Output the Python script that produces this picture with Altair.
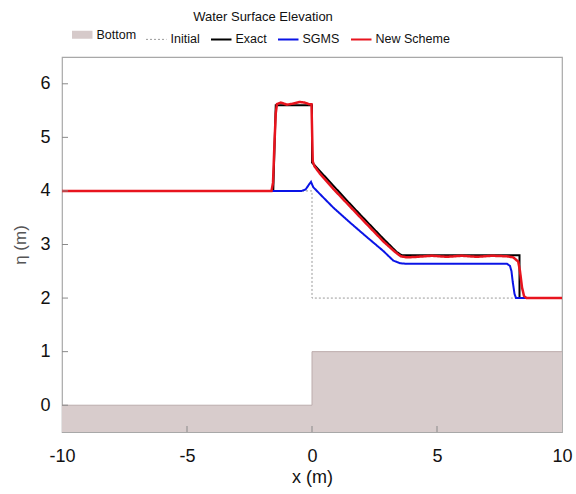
import altair as alt
import pandas as pd

# ---------------- data ----------------
names = ["Bottom", "Initial", "Exact", "SGMS", "New Scheme"]
colors = ["#d6caca", "#9a9a9a", "#000000", "#0a14e6", "#e8141e"]
dashes = [[1, 0], [2, 2], [1, 0], [1, 0], [1, 0]]

bottom_x = [-10, 0, 10]
bottom_z = [0, 1, 1]

init_x = [-10, 0, 0, 10]
init_y = [4, 4, 2, 2]

exact_x = [-10, -1.55, -1.45, 0, 0, 0.32, 0.85, 1.52, 2.19, 2.85, 3.39, 3.59, 8.3, 8.3, 10]
exact_y = [4, 4, 5.6, 5.6, 4.53, 4.37, 4.10, 3.76, 3.43, 3.11, 2.86, 2.80, 2.80, 2.0, 2.0]

sgms_x = [-10, -0.4, -0.25, -0.12, -0.04, 0.05, 0.32, 0.85, 1.52, 2.19, 2.85, 3.25, 3.52,
          3.8, 7.8, 7.92, 7.98, 8.03, 8.1, 8.16, 10]
sgms_y = [4.0, 4.0, 4.03, 4.12, 4.17, 4.07, 3.94, 3.69, 3.41, 3.14, 2.88, 2.70, 2.65,
          2.64, 2.64, 2.6, 2.5, 2.3, 2.08, 2.0, 2.0]

new_x = [-10, -1.62, -1.56, -1.5, -1.45, -1.4, -1.25, -1.0, -0.75, -0.5, -0.3, -0.12,
         -0.02, 0.0, 0.03, 0.1, 0.32, 0.85, 1.52, 2.19, 2.85, 3.3, 3.55, 3.8, 4.2, 4.8,
         5.4, 6.0, 6.6, 7.2, 7.8, 8.05, 8.15, 8.25, 8.32, 8.4, 8.48, 8.58, 10]
new_y = [4.0, 4.0, 4.15, 4.9, 5.45, 5.62, 5.65, 5.61, 5.63, 5.66, 5.65, 5.62,
         5.62, 5.2, 4.55, 4.46, 4.32, 4.04, 3.71, 3.38, 3.06, 2.87, 2.78, 2.76, 2.77, 2.79,
         2.77, 2.79, 2.77, 2.79, 2.78, 2.76, 2.72, 2.68, 2.5, 2.2, 2.04, 2.0, 2.0]

x_ticks = [-10, -5, 0, 5, 10]
y_ticks = [0, 1, 2, 3, 4, 5, 6]
x_inner_ticks = [-5, 0, 5]

# ---------------- tables ----------------
def table(xs, ys, name):
    return pd.DataFrame({"x": xs, "y": ys, "series": name, "i": list(range(len(xs)))})

bottom_df = pd.DataFrame({"x": bottom_x, "y": bottom_z})
series_tables = {
    "Initial": table(init_x, init_y, "Initial"),
    "Exact": table(exact_x, exact_y, "Exact"),
    "SGMS": table(sgms_x, sgms_y, "SGMS"),
    "New Scheme": table(new_x, new_y, "New Scheme"),
}
widths = {"Initial": 1, "Exact": 2, "SGMS": 2, "New Scheme": 2.5}

xs = alt.Scale(domain=[-10, 10], nice=False, zero=False)
ys = alt.Scale(domain=[-0.5, 6.5], nice=False, zero=False)

x_axis = alt.Axis(values=x_ticks, title="x (m)", tickSize=0, domain=False, grid=False,
                  labelFontSize=18, labelPadding=15, labelColor="#111",
                  labelExpr="'' + datum.value",
                  titleFontSize=18, titleFontWeight="normal", titleColor="#111",
                  titlePadding=3, labelFlush=False)
y_axis = alt.Axis(values=y_ticks, title="η (m)", tickSize=0, domain=False, grid=False,
                  labelFontSize=18, labelPadding=12, labelColor="#111",
                  titleFontSize=17, titleFontWeight="normal", titleColor="#555",
                  titlePadding=10)

legend = alt.Legend(
    title="Water Surface Elevation", orient="none", legendX=14, legendY=-46,
    direction="horizontal", titleOrient="top", titleAnchor="middle",
    titleFontSize=13, titleFontWeight="normal", titleColor="#111", titlePadding=4,
    labelFontSize=12.5, labelColor="#111", symbolType="stroke", symbolSize=420,
    symbolStrokeWidth=alt.ExprRef(expr="datum.value == 'Bottom' ? 8 : (datum.value == 'Initial' ? 1 : 2)"),
    columnPadding=7, labelOffset=8, padding=0,
)

color_enc = alt.Color("series:N", scale=alt.Scale(domain=names, range=colors), legend=legend)
dash_enc = alt.StrokeDash("series:N", scale=alt.Scale(domain=names, range=dashes), legend=legend)


def X(field):
    return alt.X(field, scale=xs, axis=x_axis)


def Y(field):
    return alt.Y(field, scale=ys, axis=y_axis)


bottom_area = alt.Chart(bottom_df).mark_area(interpolate="step-after", fill="#d8cccc", clip=True).encode(
    x=X("x:Q"), y=Y("y:Q"), y2=alt.Y2(datum=-0.5),
)
bottom_edge = alt.Chart(bottom_df).mark_line(interpolate="step-after", clip=True).encode(
    x=X("x:Q"), y=Y("y:Q"),
    stroke=alt.value("#bcacac"),
    strokeWidth=alt.value(1),
)

layers = [bottom_area, bottom_edge]
for name in ["Initial", "Exact", "SGMS", "New Scheme"]:
    layers.append(
        alt.Chart(series_tables[name]).mark_line(clip=True).encode(
            x=X("x:Q"), y=Y("y:Q"),
            color=color_enc,
            strokeDash=dash_enc,
            order=alt.Order("i:Q"),
            strokeWidth=alt.value(widths[name]),
        )
    )

yt = alt.Chart(pd.DataFrame({"v": y_ticks})).mark_rule(color="#8a8a8a", strokeWidth=1).encode(
    y=Y("v:Q"), x=alt.value(0), x2=alt.value(6))
xt = alt.Chart(pd.DataFrame({"v": x_inner_ticks})).mark_rule(color="#8a8a8a", strokeWidth=1).encode(
    x=X("v:Q"), y=alt.value(375), y2=alt.value(369))
layers += [yt, xt]

chart = alt.layer(*layers).properties(
    width=500, height=375,
    autosize=alt.AutoSizeParams(type="none"),
    padding={"left": 62, "top": 57, "right": 14, "bottom": 62},
).configure(font="Liberation Sans").configure_view(stroke="#a8a8a8", strokeWidth=1.2)

chart.save("out.html", embed_options={"renderer": "svg", "actions": False})
